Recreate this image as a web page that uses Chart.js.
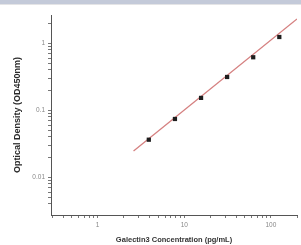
<!DOCTYPE html>
<html>
<head>
<meta charset="utf-8">
<script src="https://cdn.jsdelivr.net/npm/chart.js@4.4.1/dist/chart.umd.min.js"></script>
<style>
html,body{margin:0;padding:0;background:#fff;}
#band{position:absolute;left:0;top:0;width:301px;height:4px;background:#c4cad9;border-bottom:1px solid #e4e4e6;}
#wrap{position:absolute;left:0;top:0;width:301px;height:245px;}
</style>
</head>
<body>
<div id="band"></div>
<div id="wrap"><canvas id="c" width="301" height="245"></canvas></div>
<script>
// Standard concentrations (pg/mL) and measured OD450
const concentrations = [3.9, 7.81, 15.63, 31.25, 62.5, 125];
const opticalDensity = [0.0364, 0.0742, 0.153, 0.314, 0.618, 1.24];
// Fitted curve endpoints
const fitX = [2.6, 200];
const fitY = [0.0247, 2.3];
const xTickLabels = ['1', '10', '100'];
const yTickLabels = ['0.01', '0.1', '1'];

function isNice(v) {
  const e = Math.floor(Math.log10(v) + 1e-9);
  const m = v / Math.pow(10, e);
  return Math.abs(m - Math.round(m)) < 1e-6;
}
function fmt(v) {
  return String(parseFloat(v.toPrecision(6)));
}

new Chart(document.getElementById('c'), {
  type: 'scatter',
  data: {
    datasets: [
      {
        data: fitX.map((x, i) => ({x, y: fitY[i]})),
        showLine: true,
        borderColor: '#d58080',
        borderWidth: 1.3,
        pointRadius: 0,
        order: 2
      },
      {
        data: concentrations.map((x, i) => ({x, y: opticalDensity[i]})),
        showLine: false,
        pointStyle: 'rect',
        pointRadius: 3,
        backgroundColor: '#1e1e1e',
        borderColor: '#1e1e1e',
        borderWidth: 0,
        order: 1
      }
    ]
  },
  options: {
    responsive: false,
    animation: false,
    layout: {padding: {top: 15, right: 0, left: 0, bottom: 0}},
    plugins: {legend: {display: false}, tooltip: {enabled: false}},
    scales: {
      x: {
        type: 'logarithmic',
        min: 0.29,
        max: 200,
        border: {display: true, color: '#555', width: 1},
        grid: {
          drawOnChartArea: false,
          drawTicks: true,
          tickLength: 3,
          color: (ctx) => (ctx.tick && isNice(ctx.tick.value)) ? '#777' : 'rgba(0,0,0,0)'
        },
        ticks: {
          autoSkip: false,
          maxRotation: 0,
          padding: 3,
          color: '#888',
          font: {family: 'Liberation Sans', size: 6.5},
          callback: (v) => xTickLabels.includes(fmt(v)) ? fmt(v) : ''
        },
        title: {
          display: true,
          text: 'Galectin3 Concentration (pg/mL)',
          color: '#333',
          font: {family: 'Liberation Sans', size: 7.5, weight: 'bold'},
          padding: {top: 0, bottom: 1}
        },
        afterFit: (s) => { s.height = 30; }
      },
      y: {
        type: 'logarithmic',
        min: 0.00274,
        max: 2.64,
        border: {display: true, color: '#555', width: 1},
        grid: {
          drawOnChartArea: false,
          drawTicks: true,
          tickLength: 3,
          color: (ctx) => (ctx.tick && isNice(ctx.tick.value)) ? '#777' : 'rgba(0,0,0,0)'
        },
        ticks: {
          autoSkip: false,
          padding: 3,
          color: '#888',
          font: {family: 'Liberation Sans', size: 6.5},
          callback: (v) => yTickLabels.includes(fmt(v)) ? fmt(v) : ''
        },
        title: {
          display: true,
          text: 'Optical Density (OD450nm)',
          color: '#2a2a2a',
          font: {family: 'Liberation Sans', size: 9, weight: 'bold'},
          padding: {top: 12, bottom: 0}
        },
        afterFit: (s) => { s.width = 51; }
      }
    }
  }
});
</script>
</body>
</html>
